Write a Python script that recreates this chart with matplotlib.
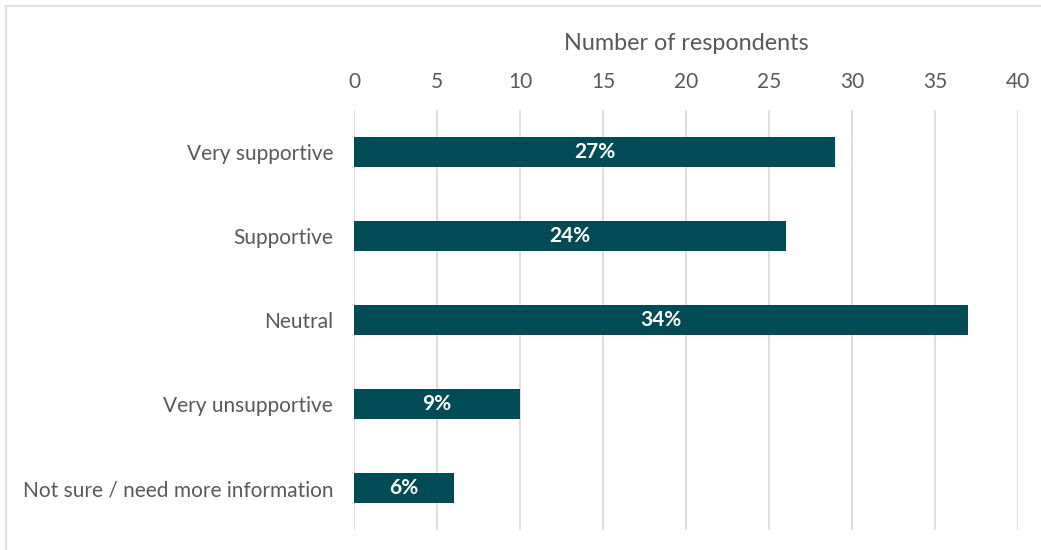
import matplotlib.pyplot as plt
from matplotlib.lines import Line2D

plt.rcParams["font.family"] = ["Lato", "DejaVu Sans"]

# Survey responses
categories = ["Very supportive", "Supportive", "Neutral",
              "Very unsupportive", "Not sure / need more information"]
counts = [29, 26, 37, 10, 6]
pct_labels = ["27%", "24%", "34%", "9%", "6%"]

bar_color = "#004b55"
text_color = "#595959"
grid_color = "#d9d9d9"

fig = plt.figure(figsize=(10.41, 5.5), dpi=100)
ax = fig.add_axes([0.340, 0.036, 0.638, 0.764])

y = list(range(len(categories)))
ax.barh(y, counts, height=0.36, color=bar_color, zorder=3)

for yi, c, lab in zip(y, counts, pct_labels):
    ax.text(c / 2, yi, lab, ha="center", va="center", color="white",
            fontsize=15, fontweight="bold", zorder=4)

ax.set_xlim(0, 40)
ax.set_ylim(len(categories) - 0.5, -0.5)
ax.set_xticks(range(0, 41, 5))
ax.set_yticks(y)
ax.set_yticklabels(categories)

ax.xaxis.tick_top()
ax.xaxis.set_label_position("top")
ax.set_xlabel("Number of respondents", fontsize=16.8, color=text_color, labelpad=16)

ax.tick_params(axis="x", length=0, labelsize=15, colors=text_color, pad=13)
ax.tick_params(axis="y", length=0, labelsize=15, colors=text_color, pad=15)

ax.grid(axis="x", color=grid_color, linewidth=1.2, zorder=0)
for s in ax.spines.values():
    s.set_visible(False)

# light frame along the top and left edges
fig.add_artist(Line2D([6 / 1041, 1], [1 - 6 / 550, 1 - 6 / 550],
                      transform=fig.transFigure, color="#e0e0e0", linewidth=1.5))
fig.add_artist(Line2D([6 / 1041, 6 / 1041], [0, 1 - 6 / 550],
                      transform=fig.transFigure, color="#e0e0e0", linewidth=1.5))

fig.savefig("out.png", dpi=100)
